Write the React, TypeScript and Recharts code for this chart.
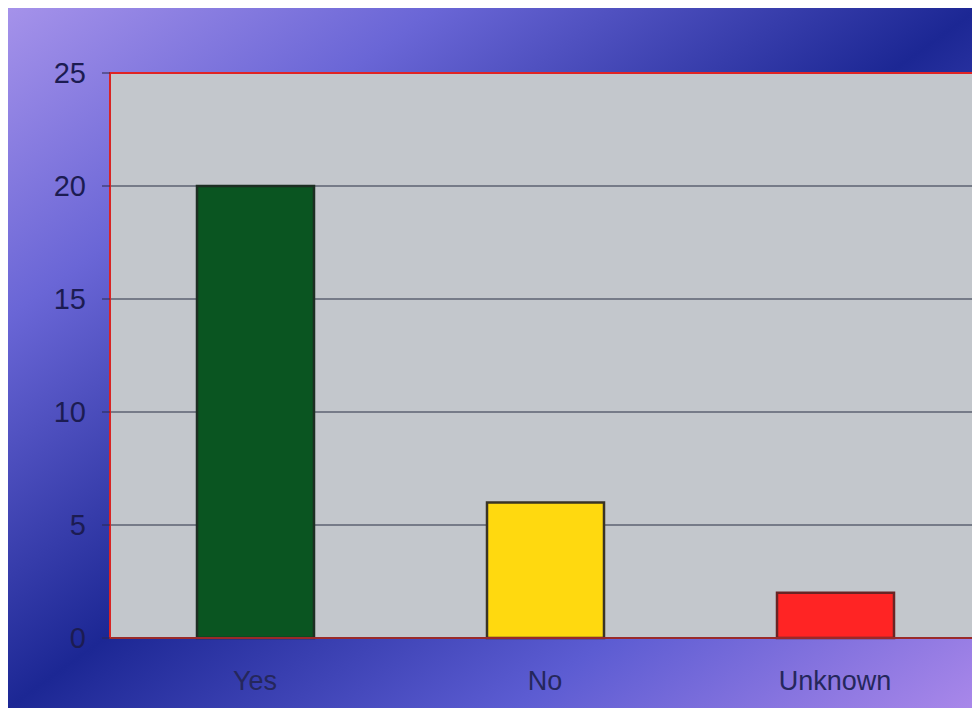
import {
  Bar,
  BarChart,
  CartesianGrid,
  Cell,
  ReferenceArea,
  XAxis,
  YAxis,
} from "recharts"

const categories = ["Yes", "No", "Unknown"]
const counts = [20, 6, 2]
const yTicks = [0, 5, 10, 15, 20, 25]

const FILLS = ["#0a5521", "#ffd90f", "#ff2424"]
const STROKES = ["#1c2e22", "#3a3424", "#6a2424"]

const data = categories.map((name, i) => ({
  name,
  value: counts[i],
  fill: FILLS[i],
  stroke: STROKES[i],
}))

export default function App() {
  return (
    <div
      style={{
        width: 972,
        height: 700,
        background:
          "linear-gradient(to bottom right, #a592ea 0%, #6a66d6 22%, #1c2794 50%, #5c5cd2 76%, #aa88ea 100%)",
        fontFamily: "'Liberation Sans', Arial, sans-serif",
      }}
    >
      <BarChart
        width={972}
        height={700}
        data={data}
        margin={{ top: 65, right: 0, left: 0, bottom: 0 }}
        barSize={117}
      >
        <CartesianGrid
          vertical={false}
          stroke="#5c6272"
          strokeWidth={1.5}
          fill="#c3c7cc"
          fillOpacity={1}
        />
        <ReferenceArea
          y1={0}
          y2={25}
          fill="none"
          stroke="#e02424"
          strokeWidth={2}
          ifOverflow="visible"
        />
        <XAxis
          dataKey="name"
          height={70}
          tickLine={false}
          tickMargin={27}
          axisLine={{ stroke: "#9a2a2a", strokeWidth: 2 }}
          tick={{ fontSize: 27, fill: "#25275c" }}
        />
        <YAxis
          width={102}
          domain={[0, 25]}
          ticks={yTicks}
          tickSize={8}
          tickMargin={16}
          axisLine={{ stroke: "#d82424", strokeWidth: 2 }}
          tickLine={{ stroke: "#2a2a50" }}
          tick={{ fontSize: 29, fill: "#1c1c52" }}
        />
        <Bar dataKey="value" strokeWidth={2.5} isAnimationActive={false}>
          {data.map((entry, index) => (
            <Cell key={`cell-${index}`} fill={entry.fill} stroke={entry.stroke} />
          ))}
        </Bar>
      </BarChart>
    </div>
  )
}
